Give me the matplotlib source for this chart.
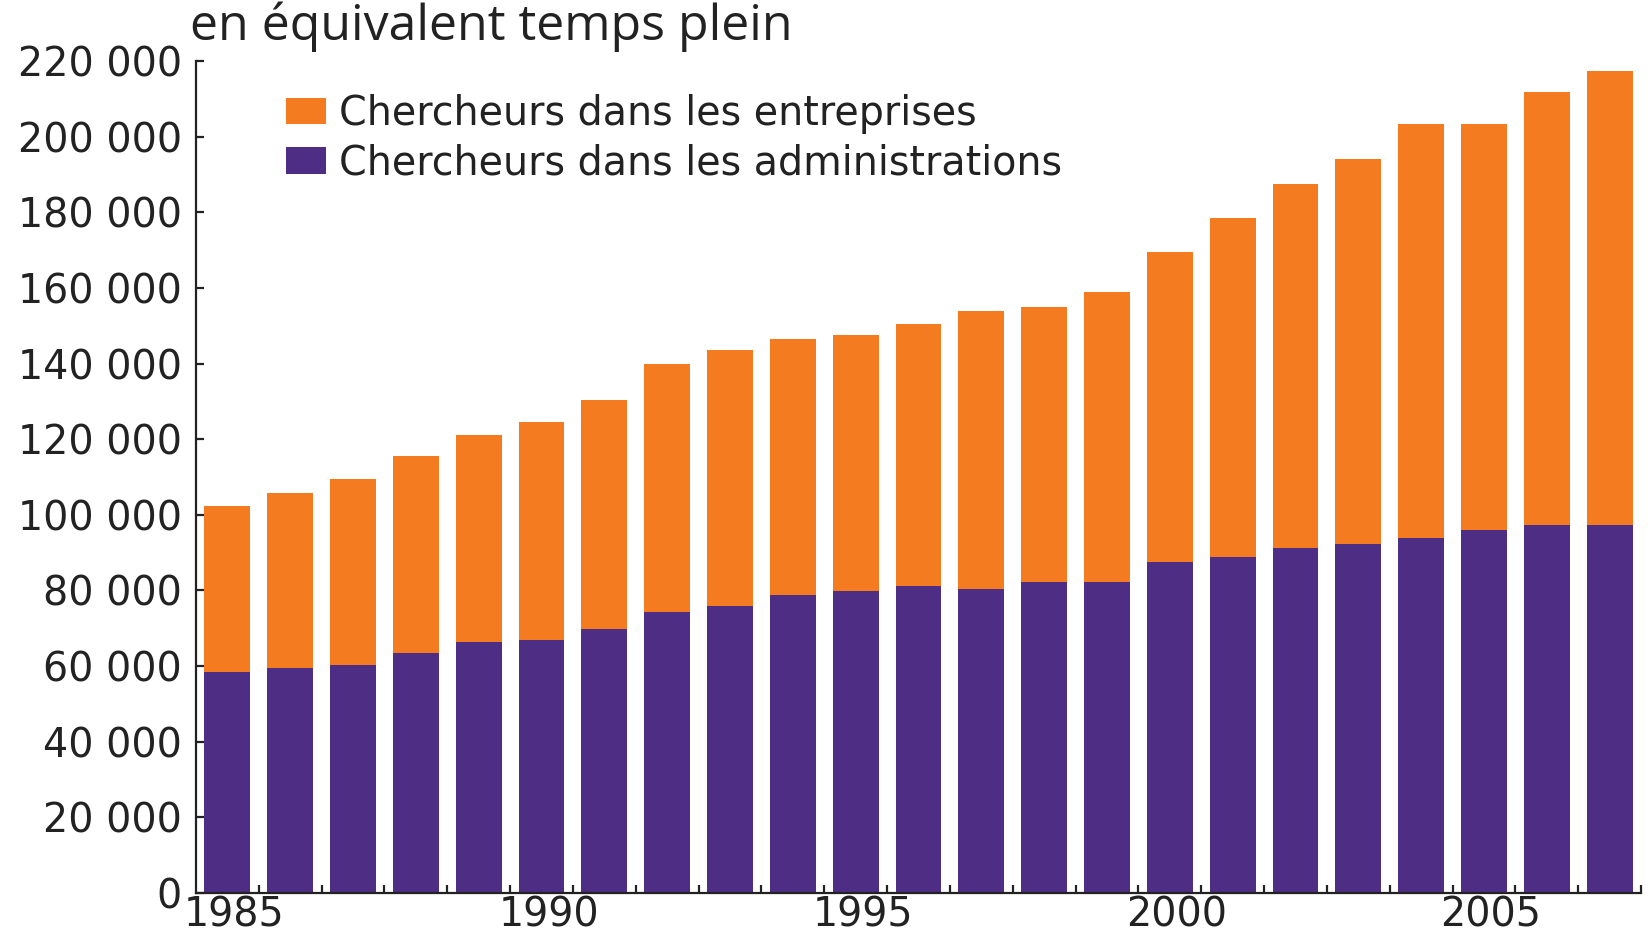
import matplotlib
matplotlib.use("Agg")
import matplotlib.pyplot as plt
import matplotlib.transforms as mtransforms
from matplotlib.patches import Patch
from matplotlib.ticker import FixedLocator, FuncFormatter

years = list(range(1985, 2008))
administrations = [58500, 59600, 60200, 63500, 66300, 66900, 69900, 74400, 76000, 78800,
                   79900, 81100, 80500, 82200, 82200, 87500, 88900, 91100, 92200, 93900,
                   96100, 97200, 97200]
totals = [102200, 105800, 109500, 115600, 121200, 124500, 130400, 139800, 143700, 146500,
          147600, 150400, 153800, 154900, 158800, 169600, 178600, 187500, 194200, 203300,
          203300, 211700, 217300]
entreprises = [t - a for t, a in zip(totals, administrations)]
year_labels = [1985, 1990, 1995, 2000, 2005]
y_ticks = list(range(0, 220001, 20000))

ORANGE = "#F47B20"
PURPLE = "#4E2D84"
INK = "#222222"

W, H = 1651, 936
fig = plt.figure(figsize=(W / 100, H / 100), dpi=100)
ax = fig.add_axes([196 / W, 1 - 893 / H, (1641 - 196) / W, (893 - 61) / H])

ax.bar(years, administrations, width=0.73, color=PURPLE, edgecolor="none")
ax.bar(years, entreprises, width=0.73, bottom=administrations, color=ORANGE, edgecolor="none")

ax.set_xlim(1984.5, 2007.5)
ax.set_ylim(0, 220000)

for s in ["top", "right"]:
    ax.spines[s].set_visible(False)
for s in ["left", "bottom"]:
    ax.spines[s].set_linewidth(1.6)
    ax.spines[s].set_color(INK)

fs = 28.5
ax.yaxis.set_major_locator(FixedLocator(y_ticks))
ax.yaxis.set_major_formatter(FuncFormatter(lambda v, p: f"{int(v):,}".replace(",", " ")))
ax.tick_params(axis="y", direction="in", length=6, width=1.6, pad=10,
               labelsize=fs, colors=INK)

ax.set_xticks(year_labels)
ax.set_xticklabels([str(y) for y in year_labels])
ax.tick_params(axis="x", which="major", length=0, pad=2, labelsize=fs, colors=INK)
ax.set_xticks([y + 0.5 for y in years], minor=True)
ax.tick_params(axis="x", which="minor", direction="in", length=6, width=1.6, color=INK)
shift = mtransforms.ScaledTranslation(7 / 100, 0, fig.dpi_scale_trans)
for lab in ax.get_xticklabels():
    lab.set_transform(lab.get_transform() + shift)

fig.text(190 / W, 1 - 27 / H, "en équivalent temps plein", fontsize=36, family="Open Sans",
         color=INK, va="center", ha="left")

handles = [Patch(facecolor=ORANGE, edgecolor="none"), Patch(facecolor=PURPLE, edgecolor="none")]
leg = ax.legend(handles, ["Chercheurs dans les entreprises", "Chercheurs dans les administrations"],
                loc="upper left", bbox_to_anchor=(286 / W, 1 - 94 / H),
                bbox_transform=fig.transFigure, frameon=False, fontsize=28.5,
                handlelength=1.0, handleheight=0.65, handletextpad=0.35,
                labelspacing=0.24, borderpad=0, borderaxespad=0)
for t in leg.get_texts():
    t.set_color(INK)

fig.savefig("out.png", dpi=100)
